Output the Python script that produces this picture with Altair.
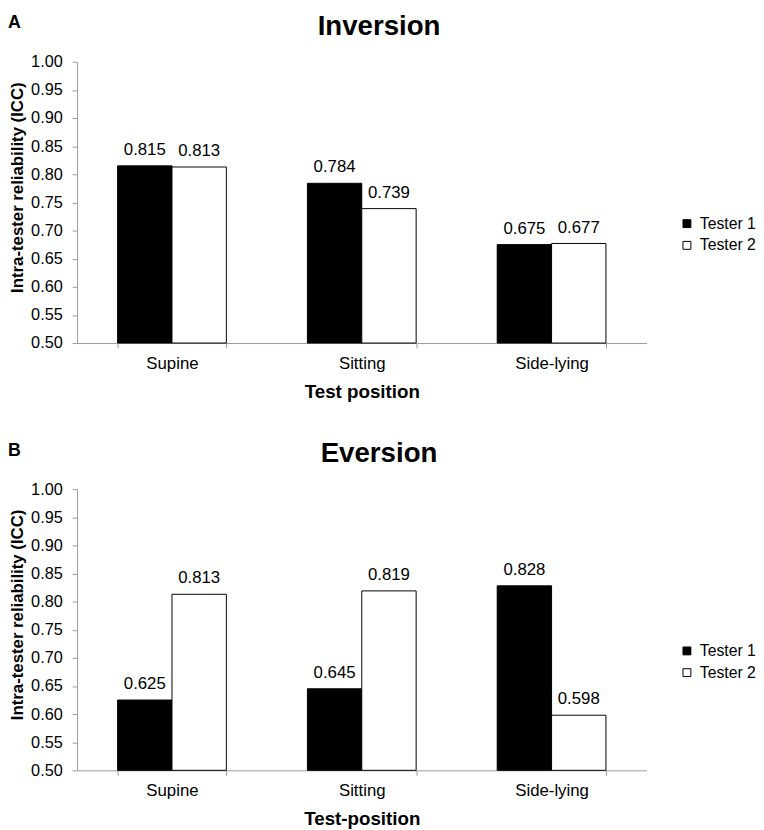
import altair as alt
import pandas as pd

positions = ["Supine", "Sitting", "Side-lying"]
testers = ["Tester 1", "Tester 2"]
inversion_t1 = [0.815, 0.784, 0.675]
inversion_t2 = [0.813, 0.739, 0.677]
eversion_t1 = [0.625, 0.645, 0.828]
eversion_t2 = [0.813, 0.819, 0.598]
y_ticks = [0.50, 0.55, 0.60, 0.65, 0.70, 0.75, 0.80, 0.85, 0.90, 0.95, 1.00]

FONT = "Liberation Sans"
AXIS_GRAY = "#9a9a9a"


def make_df(t1, t2):
    rows = []
    for p, a, b in zip(positions, t1, t2):
        rows.append({"pos": p, "tester": testers[0], "val": a})
        rows.append({"pos": p, "tester": testers[1], "val": b})
    return pd.DataFrame(rows)


def panel(df, letter, title, xtitle):
    x = alt.X("pos:N", sort=positions,
              scale=alt.Scale(paddingInner=0.427, paddingOuter=0.2135),
              axis=alt.Axis(title=xtitle, labelAngle=0, tickBand="extent",
                            labelFontSize=17, titleFontSize=19, titleFontWeight="bold",
                            labelPadding=8, titlePadding=11, tickSize=5))
    y = alt.Y("val:Q", scale=alt.Scale(domain=[0.5, 1.0], zero=False, nice=False),
              axis=alt.Axis(values=y_ticks, format=".2f",
                            title="Intra-tester reliability (ICC)",
                            titleX=-60, titleY=127, titleAngle=270,
                            titleAlign="center", titleBaseline="middle",
                            titleFontSize=17, titleFontWeight="bold",
                            labelFontSize=16.5, labelPadding=10, tickSize=5))
    xo = alt.XOffset("tester:N", sort=testers)
    base = alt.Chart(df)
    bars = base.mark_bar(stroke="black", strokeWidth=1).encode(
        x=x, xOffset=xo, y=y, y2=alt.datum(0.5),
        color=alt.Color("tester:N",
                        scale=alt.Scale(domain=testers, range=["#000000", "#ffffff"]),
                        legend=alt.Legend(title=None, orient="none", legendX=610, legendY=156,
                                          symbolType="square", symbolSize=64,
                                          symbolStrokeColor="black", symbolStrokeWidth=1,
                                          labelFontSize=16, labelFont=FONT, labelColor="black",
                                          labelOffset=5, rowPadding=6, padding=0)),
    )
    labels = base.mark_text(baseline="alphabetic", dy=-11, fontSize=17, font=FONT,
                            color="black").encode(
        x=x, xOffset=xo, y=y, text=alt.Text("val:Q", format=".3f"))
    letter_mark = alt.Chart(pd.DataFrame({"t": [letter]})).mark_text(
        align="left", baseline="alphabetic", fontSize=18, fontWeight="bold",
        font=FONT, color="black").encode(
        text="t:N", x=alt.value(-70), y=alt.value(-34))
    title_mark = alt.Chart(pd.DataFrame({"t": [title]})).mark_text(
        align="center", baseline="alphabetic", fontSize=28, fontWeight="bold",
        font=FONT, color="black").encode(
        text="t:N", x=alt.value(306), y=alt.value(-27))
    return alt.layer(bars, labels, letter_mark, title_mark).properties(width=577, height=285)


a = panel(make_df(inversion_t1, inversion_t2), "A", "Inversion", "Test position")
b = panel(make_df(eversion_t1, eversion_t2), "B", "Eversion", "Test-position")

chart = alt.vconcat(a, b, spacing=40).resolve_legend(color="independent").properties(
    padding={"left": 0, "top": 0, "right": 0, "bottom": 0}
).configure_view(stroke=None).configure_axis(
    grid=False, labelFont=FONT, titleFont=FONT, labelColor="black", titleColor="black",
    domainColor=AXIS_GRAY, tickColor=AXIS_GRAY, domainWidth=1, tickWidth=1
)

chart.save("out.html", embed_options={"renderer": "svg", "actions": False})
